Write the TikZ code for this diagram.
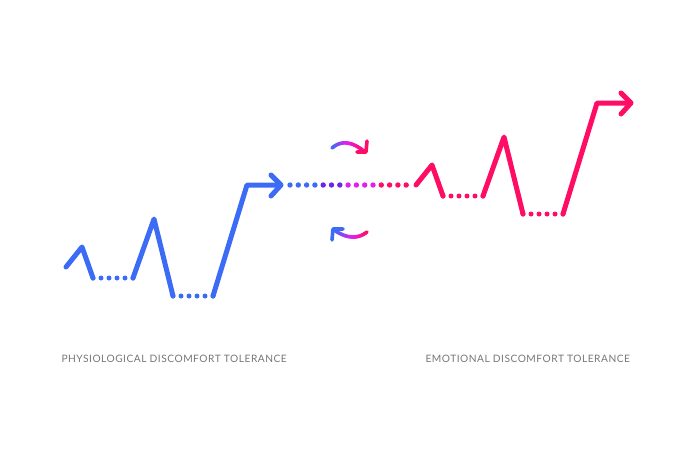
\documentclass[tikz,border=0pt]{standalone}
\usepackage{fontspec}
\setmainfont{Lato}
\usepackage{xcolor}
\definecolor{physblue}{RGB}{60,108,246}
\definecolor{emopink}{RGB}{255,12,100}
\definecolor{midviolet}{RGB}{108,34,240}
\definecolor{midmagenta}{RGB}{226,30,240}
\definecolor{labelgray}{RGB}{118,118,118}

\begin{document}
\begin{tikzpicture}[x=1pt, y=-1pt, line width=5pt, line cap=round, line join=round,
  dots/.style={dash pattern=on 0pt off 8pt},
  turn/.style={line width=3.6pt},
  caption/.style={font=\fontsize{10.2}{12}\selectfont\addfontfeatures{LetterSpace=5}, text=labelgray, anchor=base west, inner sep=0pt}]
\useasboundingbox (0,0) rectangle (700,467);

% physiological line
\draw[physblue] (66,267) -- (82,247) -- (93,278);
\draw[physblue, dots] (93,278) -- (133,278);
\draw[physblue] (133,278) -- (154,219) -- (173,296);
\draw[physblue, dots] (173,296) -- (213,296);
\draw[physblue] (213,296) -- (247,185) -- (280,185);
\draw[physblue] (271,175) -- (281,185) -- (271,196);

% emotional line, same shape moved up
\begin{scope}[shift={(350,-82)}]
\draw[emopink] (66,267) -- (82,247) -- (93,278);
\draw[emopink, dots] (93,278) -- (133,278);
\draw[emopink] (133,278) -- (154,219) -- (173,296);
\draw[emopink, dots] (173,296) -- (213,296);
\draw[emopink] (213,296) -- (247,185) -- (280,185);
\draw[emopink] (271,175) -- (281,185) -- (271,196);
\end{scope}

% dots between
\foreach \c [count=\i from 0] in {physblue,physblue,physblue,physblue,midviolet,midviolet,midviolet,
  midmagenta,midmagenta,midmagenta,midmagenta,emopink,emopink,emopink,emopink}
  \fill[\c] (290+8.3*\i,185) circle (2.7);

% turning arrows
\foreach \k in {0,...,19}{
  \pgfmathsetmacro{\ta}{\k/20}
  \pgfmathsetmacro{\tb}{(\k+1)/20}
  \pgfmathsetmacro{\p}{min(100,200*\ta)}
  \pgfmathsetmacro{\q}{max(0,200*\ta-100)}
  \ifdim \ta pt<0.5pt
    \colorlet{upc}{midmagenta!\p!physblue}
    \colorlet{loc}{midmagenta!\p!emopink}
  \else
    \colorlet{upc}{emopink!\q!midmagenta}
    \colorlet{loc}{physblue!\q!midmagenta}
  \fi
  \draw[turn, upc]
    ({(1-\ta)^2*332+2*\ta*(1-\ta)*346+\ta^2*365}, {(1-\ta)^2*148+2*\ta*(1-\ta)*136+\ta^2*152}) --
    ({(1-\tb)^2*332+2*\tb*(1-\tb)*346+\tb^2*365}, {(1-\tb)^2*148+2*\tb*(1-\tb)*136+\tb^2*152});
  \draw[turn, loc]
    ({(1-\ta)^2*367+2*\ta*(1-\ta)*353+\ta^2*334}, {(1-\ta)^2*232+2*\ta*(1-\ta)*243+\ta^2*230}) --
    ({(1-\tb)^2*367+2*\tb*(1-\tb)*353+\tb^2*334}, {(1-\tb)^2*232+2*\tb*(1-\tb)*243+\tb^2*230});
}
\draw[turn, emopink] (357,152) -- (366,152) -- (367,141);
\draw[turn, physblue] (343,229) -- (333,229) -- (332,240);

% captions
\node[caption] (phys) at (59,362) {PHYSIOLOGICAL DISCOMFORT TOLERANCE};
\node[caption] (emo) at (423,362) {EMOTIONAL DISCOMFORT TOLERANCE};
\end{tikzpicture}
\end{document}
